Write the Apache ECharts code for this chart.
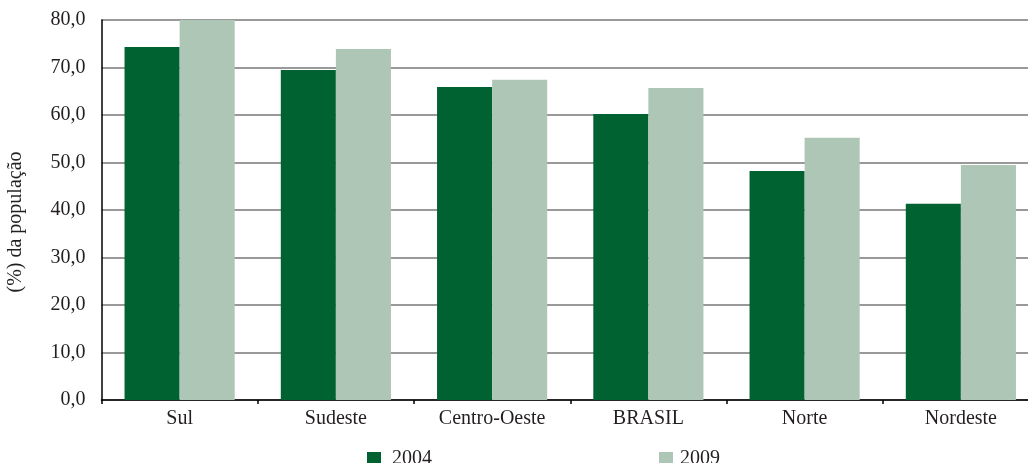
<!DOCTYPE html>
<html>
<head>
<meta charset="utf-8">
<script src="https://cdn.jsdelivr.net/npm/echarts@6/dist/echarts.min.js"></script>
<style>
  html, body { margin: 0; padding: 0; background: #fff; }
  #chart { width: 1028px; height: 463px; }
</style>
</head>
<body>
<div id="chart"></div>
<script>
// Regions and share of population (%) for 2004 and 2009
const regions = ['Sul', 'Sudeste', 'Centro-Oeste', 'BRASIL', 'Norte', 'Nordeste'];
const values2004 = [74.3, 69.5, 65.9, 60.2, 48.2, 41.3];
const values2009 = [80.0, 73.9, 67.4, 65.7, 55.2, 49.5];
const yTicks = [0, 10, 20, 30, 40, 50, 60, 70, 80];

const FONT = 'Liberation Serif';
const FS = 20;
const TEXT = '#231f20';
const DARK = '#006131';
const LIGHT = '#aec6b5';

const chart = echarts.init(document.getElementById('chart'), null, { renderer: 'canvas' });

chart.setOption({
  animation: false,
  textStyle: { fontFamily: FONT, color: TEXT },
  grid: {
    left: 101.5, top: 20, width: 937.5, height: 380,
    containLabel: false, outerBoundsMode: 'none'
  },
  legend: [
    {
      data: ['2004'], left: 367, top: 449, padding: 0,
      icon: 'rect', itemWidth: 14, itemHeight: 14, itemGap: 0,
      textStyle: { fontFamily: FONT, fontSize: FS, color: TEXT, padding: [3, 0, 0, 6] }
    },
    {
      data: ['2009'], left: 659, top: 449, padding: 0,
      icon: 'rect', itemWidth: 14, itemHeight: 14, itemGap: 0,
      textStyle: { fontFamily: FONT, fontSize: FS, color: TEXT, padding: [3, 0, 0, 2] }
    }
  ],
  xAxis: {
    type: 'category',
    data: regions,
    axisLine: { lineStyle: { color: '#000', width: 1.5 } },
    axisTick: { show: true, alignWithLabel: false, length: 4, inside: false, lineStyle: { color: '#000', width: 1.5 } },
    axisLabel: { fontFamily: FONT, fontSize: FS, color: TEXT, margin: 9 },
    splitLine: { show: false }
  },
  yAxis: {
    type: 'value',
    min: yTicks[0],
    max: yTicks[yTicks.length - 1],
    interval: 10,
    name: '(%) da população',
    nameLocation: 'middle',
    nameGap: 76,
    nameRotate: 90,
    nameTextStyle: { fontFamily: FONT, fontSize: FS, color: TEXT, padding: [0, 24, 0, 0] },
    axisLine: { show: true, lineStyle: { color: '#000', width: 1.5 } },
    axisTick: { show: false },
    axisLabel: {
      fontFamily: FONT, fontSize: FS, color: TEXT, margin: 16,
      formatter: v => v.toFixed(1).replace('.', ',')
    },
    splitLine: { show: true, lineStyle: { color: '#777', width: 1.5 } }
  },
  series: [
    {
      name: '2004', type: 'bar', data: values2004,
      itemStyle: { color: DARK },
      barGap: '0%', barCategoryGap: '29.5%'
    },
    {
      name: '2009', type: 'bar', data: values2009,
      itemStyle: { color: LIGHT },
      barGap: '0%', barCategoryGap: '29.5%'
    }
  ]
});
</script>
</body>
</html>
